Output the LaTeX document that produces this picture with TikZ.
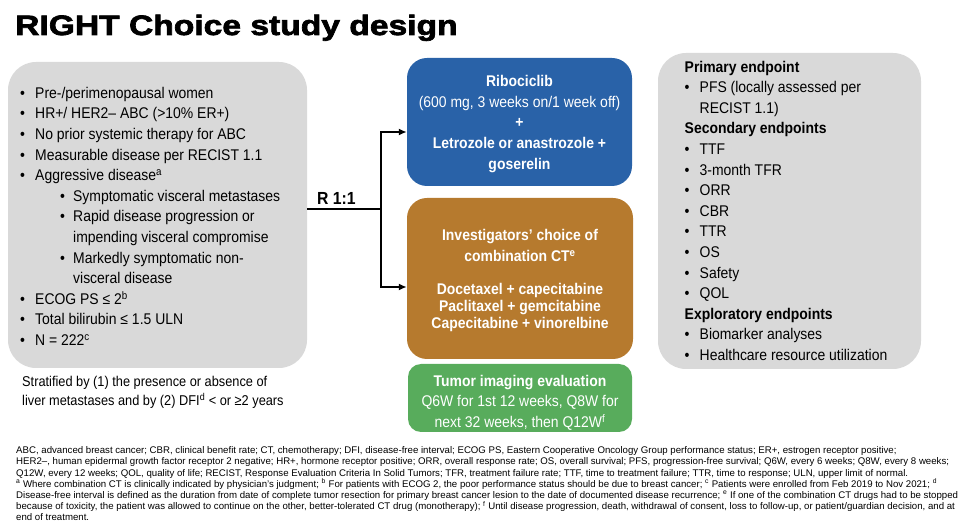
\documentclass[tikz,border=0pt]{standalone}
\usepackage{fontspec}
\setmainfont{Liberation Sans}
\newfontfamily\narrowfont{Liberation Sans}[FakeStretch=0.9]
\newfontfamily\titlefont{Liberation Sans}[FakeStretch=1.2,FakeBold=2.5]
\usetikzlibrary{arrows.meta,positioning,calc}
\definecolor{boxgray}{RGB}{217,217,217}
\definecolor{ribblue}{RGB}{41,98,168}
\definecolor{ctorange}{RGB}{182,122,46}
\definecolor{evalgreen}{RGB}{88,172,92}
\newcommand{\bul}{\makebox[15pt][l]{\textbullet}}
\newcommand{\subbul}{\hspace{40pt}\makebox[13pt][l]{\textbullet}}

\begin{document}
\begin{tikzpicture}[x=1pt,y=-1pt,
  greybox/.style={fill=boxgray,rounded corners=28pt,inner sep=0pt},
  armbox/.style={rounded corners=20pt,inner sep=0pt},
  armtext/.style={text=white,align=center,inner sep=0pt,
    font=\narrowfont\fontsize{15.5}{20.6}\selectfont},
  bodytext/.style={align=left,inner sep=0pt,anchor=base west,
    font=\narrowfont\fontsize{15.5}{20.6}\selectfont},
  arm/.style={line width=2pt,-{Latex[length=8pt,width=7pt]}}]
  \useasboundingbox (0,0) rectangle (962,526);
  \node[anchor=base west,inner sep=0pt,font=\titlefont\bfseries\fontsize{28}{30}\selectfont] (title) at (15,35) {RIGHT Choice study design};
  % eligibility
  \node[greybox,minimum width=299pt,minimum height=306pt] (elig) at (157.5,215) {};
  \node[bodytext] (eligtext) at (20,345.5) {\bul Pre-/perimenopausal women\\
    \bul HR+/ HER2– ABC (>10\% ER+)\\
    \bul No prior systemic therapy for ABC\\
    \bul Measurable disease per RECIST 1.1\\
    \bul Aggressive disease\textsuperscript{a}\\
    \subbul Symptomatic visceral metastases\\
    \subbul Rapid disease progression or\\
    \hspace{53pt}impending visceral compromise\\
    \subbul Markedly symptomatic non-\\
    \hspace{53pt}visceral disease\\
    \bul ECOG PS ≤ 2\textsuperscript{b}\\
    \bul Total bilirubin ≤ 1.5 ULN\\
    \bul N = 222\textsuperscript{c}};
  \node[bodytext,font=\narrowfont\fontsize{14.2}{19.2}\selectfont] (strat) at (22,406) {Stratified by (1) the presence or absence of\\
    liver metastases and by (2) DFI\textsuperscript{d} < or ≥2 years};
  % treatment arms
  \node[armbox,fill=ribblue,minimum width=225pt,minimum height=128pt] (ribo) at (519.5,122) {};
  \node[armtext] (ribotext) at ([yshift=-2pt]ribo.center) {\textbf{Ribociclib}\\
    (600 mg, 3 weeks on/1 week off)\\
    \textbf{+}\\
    \textbf{Letrozole or anastrozole +}\\
    \textbf{goserelin}};
  \node[armbox,fill=ctorange,minimum width=226pt,minimum height=161pt] (chemo) at (520,278.5) {};
  \node[armtext,font=\narrowfont\bfseries\fontsize{15.5}{20.6}\selectfont] (chemotext) at ([yshift=-2pt]chemo.center) {Investigators’ choice of\\
    combination CT\textsuperscript{e}\\[12.4pt]
    Docetaxel + capecitabine\\[-3.6pt]
    Paclitaxel + gemcitabine\\[-3.6pt]
    Capecitabine + vinorelbine};
  \node[armbox,fill=evalgreen,rounded corners=13pt,minimum width=224pt,minimum height=68pt] (imaging) at (520,398) {};
  \node[armtext] (imagingtext) at ([yshift=-4.5pt]imaging.center) {\textbf{Tumor imaging evaluation}\\
    Q6W for 1st 12 weeks, Q8W for\\
    next 32 weeks, then Q12W\textsuperscript{f}};
  % randomisation
  \coordinate (split) at (381,209);
  \draw[line width=2pt] (elig.east |- split) -- (split);
  \draw[arm] (split) |- ([yshift=-10pt]ribo.west);
  \draw[arm] (split) |- ([yshift=-8.5pt]chemo.west);
  \node[anchor=base west,inner sep=0pt,font=\narrowfont\bfseries\fontsize{17.5}{20}\selectfont] (ratio) at (317,205) {R 1:1};
  % endpoints
  \node[greybox,minimum width=263pt,minimum height=316pt] (endp) at (789.5,211) {};
  \node[bodytext] (endptext) at (684.5,360.5) {\textbf{Primary endpoint}\\
    \bul PFS (locally assessed per\\
    \hspace{15pt}RECIST 1.1)\\
    \textbf{Secondary endpoints}\\
    \bul TTF\\
    \bul 3-month TFR\\
    \bul ORR\\
    \bul CBR\\
    \bul TTR\\
    \bul OS\\
    \bul Safety\\
    \bul QOL\\
    \textbf{Exploratory endpoints}\\
    \bul Biomarker analyses\\
    \bul Healthcare resource utilization};
  % footnotes
  \node[bodytext,font=\fontsize{9.65}{11.2}\selectfont] (notes) at (16,521) {ABC, advanced breast cancer; CBR, clinical benefit rate; CT, chemotherapy; DFI, disease-free interval; ECOG PS, Eastern Cooperative Oncology Group performance status; ER+, estrogen receptor positive;\\
    HER2–, human epidermal growth factor receptor 2 negative; HR+, hormone receptor positive; ORR, overall response rate; OS, overall survival; PFS, progression-free survival; Q6W, every 6 weeks; Q8W, every 8 weeks;\\
    Q12W, every 12 weeks; QOL, quality of life; RECIST, Response Evaluation Criteria In Solid Tumors; TFR, treatment failure rate; TTF, time to treatment failure; TTR, time to response; ULN, upper limit of normal.\\
    \textsuperscript{a} Where combination CT is clinically indicated by physician’s judgment; \textsuperscript{b} For patients with ECOG 2, the poor performance status should be due to breast cancer; \textsuperscript{c} Patients were enrolled from Feb 2019 to Nov 2021; \textsuperscript{d}\\
    Disease-free interval is defined as the duration from date of complete tumor resection for primary breast cancer lesion to the date of documented disease recurrence; \textsuperscript{e} If one of the combination CT drugs had to be stopped\\
    because of toxicity, the patient was allowed to continue on the other, better-tolerated CT drug (monotherapy); \textsuperscript{f} Until disease progression, death, withdrawal of consent, loss to follow-up, or patient/guardian decision, and at\\
    end of treatment.};
\end{tikzpicture}
\end{document}
